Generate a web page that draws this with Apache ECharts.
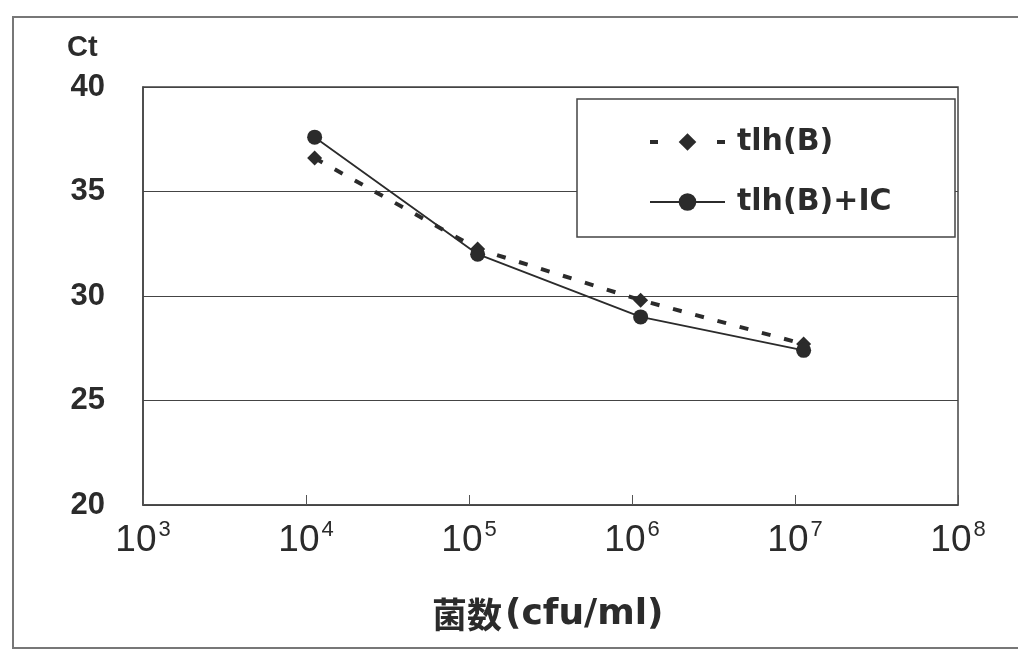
<!DOCTYPE html>
<html>
<head>
<meta charset="utf-8">
<script src="https://cdn.jsdelivr.net/npm/echarts@6/dist/echarts.min.js"></script>
<style>
  html, body { margin: 0; padding: 0; background: #fff; }
  #chart { width: 1018px; height: 650px; }
</style>
</head>
<body>
<div id="chart"></div>
<script>
// Bacterial count (cfu/ml) and measured Ct values
const cfu = [1.13e4, 1.13e5, 1.13e6, 1.13e7];
const ctTlhB = [36.6, 32.25, 29.8, 27.7];
const ctTlhBIC = [37.6, 32.0, 29.0, 27.4];
const seriesNames = ['tlh(B)', 'tlh(B)+IC'];
const yTicks = [20, 25, 30, 35, 40];

const ink = '#2b2b2b';
const numFont = '"Liberation Sans", Arial, sans-serif';
const wideFont = '"DejaVu Sans", "Liberation Sans", sans-serif';

const chart = echarts.init(document.getElementById('chart'));
chart.setOption({
  backgroundColor: '#fff',
  animation: false,
  grid: { left: 143, right: 60, top: 87, bottom: 145, show: false },
  xAxis: {
    type: 'log',
    logBase: 10,
    min: 1e3,
    max: 1e8,
    axisLine: { show: true, lineStyle: { color: '#444', width: 1.5 } },
    axisTick: { show: true, inside: true, length: 10, lineStyle: { color: '#555', width: 1 } },
    splitLine: { show: false },
    axisLabel: {
      margin: 14,
      formatter: v => '{b|10}{sup|' + Math.round(Math.log10(v)) + '}',
      rich: {
        b: { fontSize: 37, color: ink, fontFamily: numFont, padding: [0, 2, 0, 0] },
        sup: { fontSize: 22, verticalAlign: 'top', padding: [0, 0, 22, 0], color: ink, fontFamily: numFont }
      },
      color: ink
    }
  },
  yAxis: {
    type: 'value',
    min: 20,
    max: 40,
    interval: 5,
    axisLine: { show: true, lineStyle: { color: '#444', width: 1.5 } },
    axisTick: { show: false },
    splitLine: { show: true, lineStyle: { color: '#444', width: 1.2 } },
    axisLabel: {
      margin: 38,
      fontSize: 31,
      fontWeight: 'bold',
      color: ink,
      fontFamily: numFont,
      formatter: v => yTicks.includes(v) ? String(v) : ''
    }
  },
  legend: {
    orient: 'vertical',
    left: 643,
    top: 122,
    itemWidth: 75,
    itemHeight: 22,
    itemGap: 30,
    textStyle: { fontSize: 30, fontWeight: 'bold', color: ink, fontFamily: wideFont, padding: [0, 0, 0, 7] },
    data: [
      { name: seriesNames[0], lineStyle: { type: [8, 59], width: 4 } },
      { name: seriesNames[1] }
    ]
  },
  graphic: [
    // outer frame
    { type: 'rect', shape: { x: 13, y: 17, width: 1030, height: 631 },
      style: { fill: 'none', stroke: '#777', lineWidth: 2 }, silent: true },
    // plot area border (top/right)
    { type: 'rect', shape: { x: 143, y: 87, width: 815, height: 418 },
      style: { fill: 'none', stroke: '#444', lineWidth: 1.5 }, silent: true, z: 0 },
    // legend box
    { type: 'rect', shape: { x: 577, y: 99, width: 378, height: 138 },
      style: { fill: '#fff', stroke: '#444', lineWidth: 1.5 }, z: 3, silent: true },
    { type: 'text', left: 67, top: 33,
      style: { text: 'Ct', fontSize: 29, fontWeight: 'bold', fill: ink, fontFamily: numFont } },
    { type: 'text', left: 432, top: 597,
      style: {
        text: '{k|菌数}{l|(cfu/ml)}',
        rich: {
          k: { fontSize: 35, fontWeight: 'bold', fill: ink, fontFamily: '"Noto Sans CJK JP", sans-serif' },
          l: { fontSize: 36, fontWeight: 'bold', fill: ink, fontFamily: wideFont, padding: [0, 0, 0, 3] }
        }
      } }
  ],
  series: [
    {
      name: seriesNames[0],
      type: 'line',
      data: cfu.map((x, i) => [x, ctTlhB[i]]),
      symbol: 'diamond',
      symbolSize: 15,
      itemStyle: { color: ink },
      lineStyle: { color: ink, width: 4, type: [9, 14] },
      z: 4
    },
    {
      name: seriesNames[1],
      type: 'line',
      data: cfu.map((x, i) => [x, ctTlhBIC[i]]),
      symbol: 'circle',
      symbolSize: 15,
      itemStyle: { color: ink },
      lineStyle: { color: ink, width: 1.8 },
      z: 5
    }
  ]
});
</script>
</body>
</html>
